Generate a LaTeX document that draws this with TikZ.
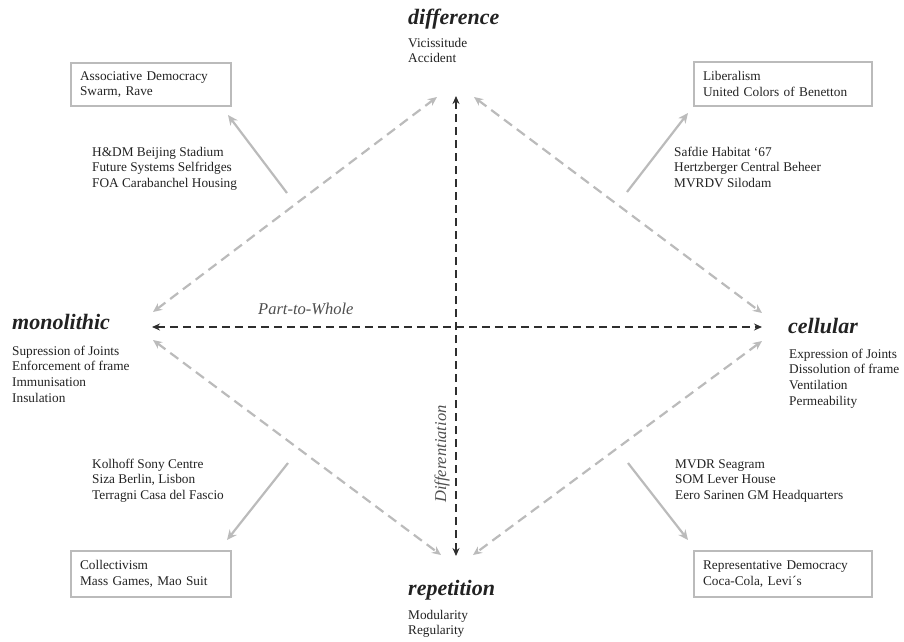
\documentclass[tikz,border=0pt]{standalone}
\usepackage{fontspec}
\setmainfont{Liberation Serif}
\usetikzlibrary{arrows.meta}
\definecolor{ink}{HTML}{222222}
\definecolor{axisc}{HTML}{2E2E2E}
\definecolor{soft}{HTML}{BBBBBB}
\newcommand\txtblock[1]{\begin{tabular}[t]{@{}l@{}}#1\end{tabular}}
\begin{document}
\begin{tikzpicture}[x=1pt,y=-1pt,
  body/.style={font=\fontsize{13.3}{15.8}\selectfont, text=ink, inner sep=0pt, anchor=base west},
  head/.style={font=\fontsize{22}{24}\selectfont\bfseries\itshape, text=ink, inner sep=0pt, anchor=base west},
  axislabel/.style={font=\fontsize{16.5}{18}\selectfont\itshape, text=ink!80, inner sep=0pt, anchor=base west},
  axisline/.style={draw=axisc, line width=2.8pt, dash pattern=on 8pt off 5pt,
     {Stealth[length=8pt,width=7pt]}-{Stealth[length=8pt,width=7pt]}},
  diag/.style={draw=soft, line width=2.2pt, dash pattern=on 10pt off 6pt,
     {Stealth[length=9pt,width=8pt]}-{Stealth[length=9pt,width=8pt]}},
  link/.style={draw=soft, line width=2.2pt, -{Stealth[length=10pt,width=9pt]}},
  boxnode/.style={draw=soft, line width=2.2pt, inner xsep=9pt, inner ysep=0pt, anchor=north west,
     align=left, font=\fontsize{13.3}{15.8}\selectfont, text=ink}
]
\useasboundingbox (0,0) rectangle (904,641);

% headings and their lists
\node[head] (diff) at (408,24) {difference};
\node[body] (diffl) at (408,47) {\txtblock{Vicissitude\\Accident}};
\node[head] (mono) at (12,329) {monolithic};
\node[body] (monol) at (12,355) {\txtblock{Supression of Joints\\Enforcement of frame\\Immunisation\\Insulation}};
\node[head] (cell) at (788,333) {cellular};
\node[body] (celll) at (789,358) {\txtblock{Expression of Joints\\Dissolution of frame\\Ventilation\\Permeability}};
\node[head] (rep) at (408,595) {repetition};
\node[body] (repl) at (408,619) {\txtblock{Modularity\\Regularity}};

% boxes
\node[boxnode, minimum width=160pt, minimum height=43pt, text width=142pt] (assoc) at (70,62) {Associative Democracy\\Swarm, Rave};
\node[boxnode, minimum width=178pt, minimum height=44pt, text width=160pt] (lib) at (693,61) {Liberalism\\United Colors of Benetton};
\node[boxnode, minimum width=160pt, minimum height=46pt, text width=142pt] (coll) at (70,550) {Collectivism\\Mass Games, Mao Suit};
\node[boxnode, minimum width=178pt, minimum height=46pt, text width=160pt] (repd) at (693,550) {Representative Democracy\\Coca-Cola, Levi´s};

% examples
\node[body] (extl) at (92,156) {\txtblock{H\&DM Beijing Stadium\\Future Systems Selfridges\\FOA Carabanchel Housing}};
\node[body] (extr) at (674,156) {\txtblock{Safdie Habitat ‘67\\Hertzberger Central Beheer\\MVRDV Silodam}};
\node[body] (exbl) at (92,468) {\txtblock{Kolhoff Sony Centre\\Siza Berlin, Lisbon\\Terragni Casa del Fascio}};
\node[body] (exbr) at (675,468) {\txtblock{MVDR Seagram\\SOM Lever House\\Eero Sarinen GM Headquarters}};

% axis labels
\node[axislabel] (ptw) at (258,314) {Part-to-Whole};
\node[axislabel, rotate=90] (difn) at (446,503) {Differentiation};

% axis end points
\coordinate (vtop) at (456,96);
\coordinate (vbot) at (456,556);
\coordinate (hleft) at (152,327);
\coordinate (hright) at (762,327);
\draw[axisline] (vbot) -- (vtop);
\draw[axisline] (hleft) -- (hright);

% diagonal end points
\coordinate (tl) at (437,97);
\coordinate (tr) at (474,97);
\coordinate (lu) at (153,312);
\coordinate (ld) at (153,340);
\coordinate (ru) at (762,313);
\coordinate (rd) at (762,341);
\coordinate (bl) at (441,555);
\coordinate (br) at (473,555);
\draw[diag] (lu) -- (tl);
\draw[diag] (tr) -- (ru);
\draw[diag] (ld) -- (bl);
\draw[diag] (rd) -- (br);

% links to boxes
\coordinate (s1) at (287,193);
\coordinate (e1) at (228,115);
\coordinate (s2) at (627,192);
\coordinate (e2) at (688,113);
\coordinate (s3) at (288,463);
\coordinate (e3) at (227,540);
\coordinate (s4) at (628,463);
\coordinate (e4) at (688,540);
\draw[link] (s1) -- (e1);
\draw[link] (s2) -- (e2);
\draw[link] (s3) -- (e3);
\draw[link] (s4) -- (e4);
\end{tikzpicture}
\end{document}
